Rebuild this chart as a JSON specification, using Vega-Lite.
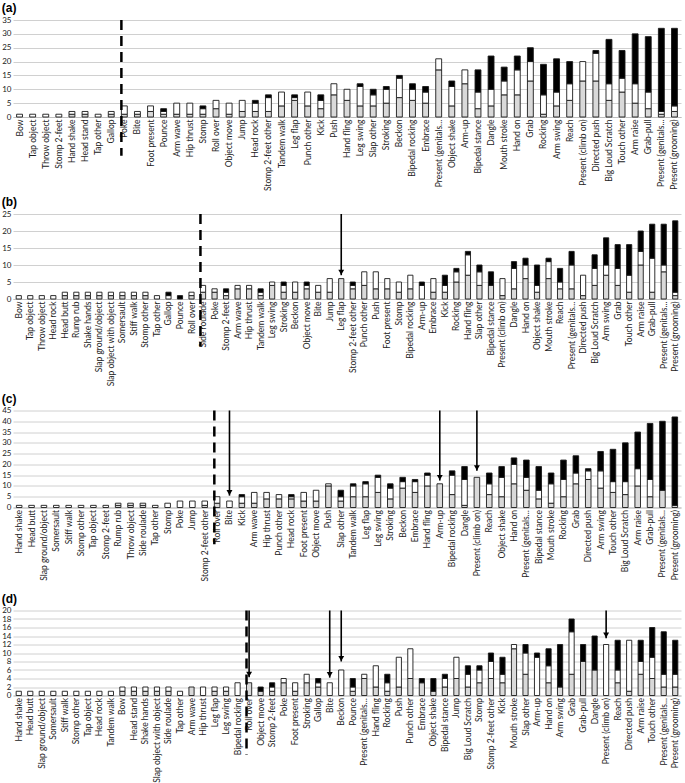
{
"$schema": "https://vega.github.io/schema/vega-lite/v6.json",
"background": "white",
"padding": {"left": 1, "right": 2, "top": 2, "bottom": 0},
"spacing": 6.5,
"config": {
  "view": {"stroke": null},
  "font": "Lato",
  "title": {"anchor": "start", "frame": "bounds", "fontSize": 12, "fontWeight": "bold", "font": "Liberation Sans", "offset": 1, "color": "#000"},
  "axisX": {"title": null, "labelAngle": -90, "labelFontSize": 8.5, "labelFont": "Lato", "labelColor": "#222", "ticks": false, "domain": true, "domainColor": "#bfbfbf", "labelPadding": 2, "grid": false},
  "axisY": {"title": null, "domain": false, "ticks": false, "grid": true, "gridColor": "#d0d0d0", "gridWidth": 1, "labelFontSize": 8, "labelFont": "Lato", "labelColor": "#222", "labelPadding": 2, "labelOverlap": false}
},
"datasets": {
  "bars": [
    {"p":"a","b":"Bow","s1":0,"s2":1,"s3":0},
    {"p":"a","b":"Tap object","s1":0,"s2":1,"s3":0},
    {"p":"a","b":"Throw object","s1":0,"s2":1,"s3":0},
    {"p":"a","b":"Stomp 2-feet","s1":0,"s2":1,"s3":0},
    {"p":"a","b":"Hand shake","s1":1,"s2":1,"s3":0},
    {"p":"a","b":"Head stand","s1":1,"s2":1,"s3":0},
    {"p":"a","b":"Tap other","s1":0,"s2":1,"s3":0},
    {"p":"a","b":"Gallop","s1":1,"s2":1,"s3":0},
    {"p":"a","b":"Poke","s1":1,"s2":3,"s3":0},
    {"p":"a","b":"Bite","s1":1,"s2":1,"s3":0},
    {"p":"a","b":"Foot present","s1":2,"s2":2,"s3":0},
    {"p":"a","b":"Pounce","s1":1,"s2":1,"s3":1},
    {"p":"a","b":"Arm wave","s1":1,"s2":4,"s3":0},
    {"p":"a","b":"Hip thrust","s1":1,"s2":4,"s3":0},
    {"p":"a","b":"Stomp","s1":1,"s2":2,"s3":1},
    {"p":"a","b":"Roll over","s1":3,"s2":3,"s3":0},
    {"p":"a","b":"Object move","s1":1,"s2":4,"s3":0},
    {"p":"a","b":"Jump","s1":2,"s2":4,"s3":0},
    {"p":"a","b":"Head rock","s1":2,"s2":3,"s3":1},
    {"p":"a","b":"Stomp 2-feet other","s1":2,"s2":5,"s3":1},
    {"p":"a","b":"Tandem walk","s1":4,"s2":5,"s3":0},
    {"p":"a","b":"Leg flap","s1":6,"s2":1,"s3":1},
    {"p":"a","b":"Punch other","s1":4,"s2":5,"s3":0},
    {"p":"a","b":"Kick","s1":3,"s2":3,"s3":2},
    {"p":"a","b":"Push","s1":8,"s2":4,"s3":0},
    {"p":"a","b":"Hand fling","s1":6,"s2":4,"s3":0},
    {"p":"a","b":"Leg swing","s1":4,"s2":7,"s3":1},
    {"p":"a","b":"Slap other","s1":4,"s2":4,"s3":2},
    {"p":"a","b":"Stroking","s1":5,"s2":5,"s3":1},
    {"p":"a","b":"Beckon","s1":7,"s2":7,"s3":1},
    {"p":"a","b":"Bipedal rocking","s1":6,"s2":4,"s3":2},
    {"p":"a","b":"Embrace","s1":5,"s2":4,"s3":2},
    {"p":"a","b":"Present (genitals…","s1":17,"s2":4,"s3":0},
    {"p":"a","b":"Object shake","s1":4,"s2":7,"s3":2},
    {"p":"a","b":"Arm-up","s1":12,"s2":5,"s3":0},
    {"p":"a","b":"Bipedal stance","s1":3,"s2":6,"s3":8},
    {"p":"a","b":"Dangle","s1":4,"s2":6,"s3":12},
    {"p":"a","b":"Mouth stroke","s1":8,"s2":5,"s3":5},
    {"p":"a","b":"Hand on","s1":8,"s2":9,"s3":5},
    {"p":"a","b":"Grab","s1":13,"s2":7,"s3":5},
    {"p":"a","b":"Rocking","s1":1,"s2":7,"s3":11},
    {"p":"a","b":"Arm swing","s1":4,"s2":5,"s3":12},
    {"p":"a","b":"Reach","s1":6,"s2":6,"s3":8},
    {"p":"a","b":"Present (climb on)","s1":13,"s2":7,"s3":0},
    {"p":"a","b":"Directed push","s1":13,"s2":10,"s3":1},
    {"p":"a","b":"Big Loud Scratch","s1":6,"s2":6,"s3":16},
    {"p":"a","b":"Touch other","s1":9,"s2":5,"s3":10},
    {"p":"a","b":"Arm raise","s1":5,"s2":7,"s3":18},
    {"p":"a","b":"Grab-pull","s1":3,"s2":6,"s3":20},
    {"p":"a","b":"Present (genitals...","s1":1,"s2":1,"s3":30},
    {"p":"a","b":"Present (grooming)","s1":2,"s2":2,"s3":28},

    {"p":"b","b":"Bow","s1":0,"s2":1,"s3":0},
    {"p":"b","b":"Tap object","s1":0,"s2":1,"s3":0},
    {"p":"b","b":"Throw object","s1":0,"s2":1,"s3":0},
    {"p":"b","b":"Head rock","s1":0,"s2":1,"s3":0},
    {"p":"b","b":"Head butt","s1":1,"s2":1,"s3":0},
    {"p":"b","b":"Rump rub","s1":1,"s2":1,"s3":0},
    {"p":"b","b":"Shake hands","s1":1,"s2":1,"s3":0},
    {"p":"b","b":"Slap ground/object","s1":1,"s2":1,"s3":0},
    {"p":"b","b":"Slap object with object","s1":1,"s2":1,"s3":0},
    {"p":"b","b":"Somersault","s1":1,"s2":1,"s3":0},
    {"p":"b","b":"Stiff walk","s1":1,"s2":1,"s3":0},
    {"p":"b","b":"Stomp other","s1":1,"s2":1,"s3":0},
    {"p":"b","b":"Tap other","s1":0,"s2":1,"s3":0},
    {"p":"b","b":"Gallop","s1":0,"s2":1,"s3":1},
    {"p":"b","b":"Pounce","s1":0,"s2":0,"s3":1},
    {"p":"b","b":"Roll over","s1":1,"s2":1,"s3":0},
    {"p":"b","b":"Side roulade","s1":2,"s2":2,"s3":0},
    {"p":"b","b":"Poke","s1":2,"s2":1,"s3":0},
    {"p":"b","b":"Stomp 2-feet","s1":1,"s2":1,"s3":1},
    {"p":"b","b":"Arm wave","s1":3,"s2":1,"s3":0},
    {"p":"b","b":"Hip thrust","s1":3,"s2":1,"s3":0},
    {"p":"b","b":"Tandem walk","s1":1,"s2":1,"s3":1},
    {"p":"b","b":"Leg swing","s1":4,"s2":1,"s3":0},
    {"p":"b","b":"Stroking","s1":2,"s2":2,"s3":1},
    {"p":"b","b":"Beckon","s1":2,"s2":3,"s3":0},
    {"p":"b","b":"Object move","s1":3,"s2":1,"s3":1},
    {"p":"b","b":"Bite","s1":2,"s2":2,"s3":0},
    {"p":"b","b":"Jump","s1":2,"s2":4,"s3":0},
    {"p":"b","b":"Leg flap","s1":6,"s2":0,"s3":0},
    {"p":"b","b":"Stomp 2-feet other","s1":3,"s2":1,"s3":1},
    {"p":"b","b":"Punch other","s1":4,"s2":4,"s3":0},
    {"p":"b","b":"Push","s1":3,"s2":5,"s3":0},
    {"p":"b","b":"Foot present","s1":3,"s2":3,"s3":0},
    {"p":"b","b":"Stomp","s1":2,"s2":3,"s3":0},
    {"p":"b","b":"Bipedal rocking","s1":3,"s2":4,"s3":0},
    {"p":"b","b":"Arm-up","s1":0,"s2":4,"s3":1},
    {"p":"b","b":"Embrace","s1":2,"s2":4,"s3":0},
    {"p":"b","b":"Kick","s1":2,"s2":2,"s3":3},
    {"p":"b","b":"Rocking","s1":5,"s2":3,"s3":1},
    {"p":"b","b":"Hand fling","s1":7,"s2":6,"s3":1},
    {"p":"b","b":"Slap other","s1":4,"s2":4,"s3":2},
    {"p":"b","b":"Bipedal stance","s1":4,"s2":0,"s3":4},
    {"p":"b","b":"Present (climb on)","s1":1,"s2":5,"s3":0},
    {"p":"b","b":"Dangle","s1":3,"s2":6,"s3":2},
    {"p":"b","b":"Hand on","s1":6,"s2":4,"s3":2},
    {"p":"b","b":"Object shake","s1":2,"s2":2,"s3":6},
    {"p":"b","b":"Mouth stroke","s1":6,"s2":5,"s3":1},
    {"p":"b","b":"Reach","s1":3,"s2":2,"s3":4},
    {"p":"b","b":"Present (genitals…","s1":3,"s2":7,"s3":4},
    {"p":"b","b":"Directed push","s1":1,"s2":6,"s3":0},
    {"p":"b","b":"Big Loud Scratch","s1":4,"s2":5,"s3":4},
    {"p":"b","b":"Arm swing","s1":7,"s2":3,"s3":8},
    {"p":"b","b":"Grab","s1":4,"s2":5,"s3":7},
    {"p":"b","b":"Touch other","s1":2,"s2":5,"s3":9},
    {"p":"b","b":"Arm raise","s1":10,"s2":4,"s3":6},
    {"p":"b","b":"Grab-pull","s1":2,"s2":10,"s3":10},
    {"p":"b","b":"Present (genitals...","s1":8,"s2":2,"s3":12},
    {"p":"b","b":"Present (grooming)","s1":1,"s2":1,"s3":21},

    {"p":"c","b":"Hand shake","s1":0,"s2":1,"s3":0},
    {"p":"c","b":"Head butt","s1":0,"s2":1,"s3":0},
    {"p":"c","b":"Slap ground/object","s1":0,"s2":1,"s3":0},
    {"p":"c","b":"Somersault","s1":0,"s2":1,"s3":0},
    {"p":"c","b":"Stiff walk","s1":0,"s2":1,"s3":0},
    {"p":"c","b":"Stomp other","s1":0,"s2":1,"s3":0},
    {"p":"c","b":"Tap object","s1":0,"s2":1,"s3":0},
    {"p":"c","b":"Stomp 2-feet","s1":0,"s2":1,"s3":0},
    {"p":"c","b":"Rump rub","s1":1,"s2":1,"s3":0},
    {"p":"c","b":"Throw object","s1":1,"s2":1,"s3":0},
    {"p":"c","b":"Side roulade","s1":1,"s2":1,"s3":0},
    {"p":"c","b":"Tap other","s1":0,"s2":1,"s3":0},
    {"p":"c","b":"Stomp","s1":0,"s2":2,"s3":0},
    {"p":"c","b":"Poke","s1":0,"s2":3,"s3":0},
    {"p":"c","b":"Jump","s1":0,"s2":3,"s3":0},
    {"p":"c","b":"Stomp 2-feet other","s1":1,"s2":2,"s3":0},
    {"p":"c","b":"Roll over","s1":2,"s2":3,"s3":0},
    {"p":"c","b":"Bite","s1":0,"s2":3,"s3":0},
    {"p":"c","b":"Kick","s1":2,"s2":3,"s3":1},
    {"p":"c","b":"Arm wave","s1":2,"s2":5,"s3":0},
    {"p":"c","b":"Hip thrust","s1":4,"s2":3,"s3":0},
    {"p":"c","b":"Punch other","s1":4,"s2":2,"s3":0},
    {"p":"c","b":"Head rock","s1":4,"s2":1,"s3":1},
    {"p":"c","b":"Foot present","s1":3,"s2":4,"s3":0},
    {"p":"c","b":"Object move","s1":3,"s2":5,"s3":0},
    {"p":"c","b":"Push","s1":10,"s2":1,"s3":0},
    {"p":"c","b":"Slap other","s1":3,"s2":2,"s3":3},
    {"p":"c","b":"Tandem walk","s1":5,"s2":5,"s3":1},
    {"p":"c","b":"Leg flap","s1":5,"s2":6,"s3":1},
    {"p":"c","b":"Leg swing","s1":7,"s2":7,"s3":1},
    {"p":"c","b":"Stroking","s1":4,"s2":5,"s3":2},
    {"p":"c","b":"Beckon","s1":9,"s2":3,"s3":2},
    {"p":"c","b":"Embrace","s1":7,"s2":5,"s3":1},
    {"p":"c","b":"Hand fling","s1":10,"s2":5,"s3":1},
    {"p":"c","b":"Arm-up","s1":11,"s2":0,"s3":0},
    {"p":"c","b":"Bipedal rocking","s1":6,"s2":9,"s3":2},
    {"p":"c","b":"Dangle","s1":1,"s2":12,"s3":6},
    {"p":"c","b":"Present (climb on)","s1":14,"s2":0,"s3":0},
    {"p":"c","b":"Reach","s1":6,"s2":5,"s3":5},
    {"p":"c","b":"Object shake","s1":5,"s2":9,"s3":5},
    {"p":"c","b":"Hand on","s1":11,"s2":9,"s3":3},
    {"p":"c","b":"Present (genitals…","s1":8,"s2":6,"s3":8},
    {"p":"c","b":"Bipedal stance","s1":4,"s2":4,"s3":11},
    {"p":"c","b":"Mouth stroke","s1":2,"s2":9,"s3":5},
    {"p":"c","b":"Rocking","s1":5,"s2":8,"s3":9},
    {"p":"c","b":"Grab","s1":11,"s2":5,"s3":8},
    {"p":"c","b":"Directed push","s1":13,"s2":4,"s3":1},
    {"p":"c","b":"Arm swing","s1":9,"s2":8,"s3":9},
    {"p":"c","b":"Touch other","s1":7,"s2":5,"s3":15},
    {"p":"c","b":"Big Loud Scratch","s1":6,"s2":6,"s3":18},
    {"p":"c","b":"Arm raise","s1":10,"s2":8,"s3":17},
    {"p":"c","b":"Grab-pull","s1":5,"s2":8,"s3":26},
    {"p":"c","b":"Present (genitals...","s1":8,"s2":0,"s3":32},
    {"p":"c","b":"Present (grooming)","s1":1,"s2":0,"s3":41},

    {"p":"d","b":"Hand shake","s1":0,"s2":1,"s3":0},
    {"p":"d","b":"Head butt","s1":0,"s2":1,"s3":0},
    {"p":"d","b":"Slap ground/object","s1":0,"s2":1,"s3":0},
    {"p":"d","b":"Somersault","s1":0,"s2":1,"s3":0},
    {"p":"d","b":"Stiff walk","s1":0,"s2":1,"s3":0},
    {"p":"d","b":"Stomp other","s1":0,"s2":1,"s3":0},
    {"p":"d","b":"Tap object","s1":0,"s2":1,"s3":0},
    {"p":"d","b":"Head rock","s1":0,"s2":1,"s3":0},
    {"p":"d","b":"Tandem walk","s1":0,"s2":1,"s3":0},
    {"p":"d","b":"Bow","s1":1,"s2":1,"s3":0},
    {"p":"d","b":"Head stand","s1":1,"s2":1,"s3":0},
    {"p":"d","b":"Shake hands","s1":1,"s2":1,"s3":0},
    {"p":"d","b":"Slap object with object","s1":1,"s2":1,"s3":0},
    {"p":"d","b":"Side roulade","s1":1,"s2":1,"s3":0},
    {"p":"d","b":"Tap other","s1":0,"s2":1,"s3":0},
    {"p":"d","b":"Arm wave","s1":2,"s2":0,"s3":0},
    {"p":"d","b":"Hip thrust","s1":0,"s2":2,"s3":0},
    {"p":"d","b":"Leg flap","s1":1,"s2":1,"s3":0},
    {"p":"d","b":"Leg swing","s1":1,"s2":1,"s3":0},
    {"p":"d","b":"Bipedal rocking","s1":0,"s2":3,"s3":0},
    {"p":"d","b":"Roll over","s1":3,"s2":0,"s3":0},
    {"p":"d","b":"Object move","s1":1,"s2":0,"s3":1},
    {"p":"d","b":"Stomp 2-feet","s1":1,"s2":1,"s3":1},
    {"p":"d","b":"Poke","s1":3,"s2":1,"s3":0},
    {"p":"d","b":"Foot present","s1":1,"s2":2,"s3":0},
    {"p":"d","b":"Stroking","s1":3,"s2":2,"s3":0},
    {"p":"d","b":"Gallop","s1":2,"s2":1,"s3":1},
    {"p":"d","b":"Bite","s1":0,"s2":3,"s3":0},
    {"p":"d","b":"Beckon","s1":0,"s2":6,"s3":0},
    {"p":"d","b":"Pounce","s1":1,"s2":1,"s3":2},
    {"p":"d","b":"Present (genitals…","s1":4,"s2":1,"s3":0},
    {"p":"d","b":"Hand fling","s1":2,"s2":5,"s3":0},
    {"p":"d","b":"Rocking","s1":1,"s2":2,"s3":2},
    {"p":"d","b":"Push","s1":2,"s2":7,"s3":0},
    {"p":"d","b":"Punch other","s1":4,"s2":7,"s3":0},
    {"p":"d","b":"Embrace","s1":3,"s2":0,"s3":1},
    {"p":"d","b":"Object shake","s1":1,"s2":0,"s3":3},
    {"p":"d","b":"Bipedal stance","s1":2,"s2":2,"s3":1},
    {"p":"d","b":"Jump","s1":4,"s2":5,"s3":0},
    {"p":"d","b":"Big Loud Scratch","s1":2,"s2":3,"s3":2},
    {"p":"d","b":"Stomp","s1":3,"s2":3,"s3":1},
    {"p":"d","b":"Stomp 2-feet other","s1":4,"s2":4,"s3":2},
    {"p":"d","b":"Kick","s1":3,"s2":2,"s3":4},
    {"p":"d","b":"Mouth stroke","s1":11,"s2":1,"s3":0},
    {"p":"d","b":"Slap other","s1":5,"s2":5,"s3":2},
    {"p":"d","b":"Arm-up","s1":0,"s2":9,"s3":1},
    {"p":"d","b":"Hand on","s1":3,"s2":4,"s3":4},
    {"p":"d","b":"Arm swing","s1":2,"s2":0,"s3":10},
    {"p":"d","b":"Grab","s1":5,"s2":10,"s3":3},
    {"p":"d","b":"Grab-pull","s1":8,"s2":0,"s3":4},
    {"p":"d","b":"Dangle","s1":6,"s2":0,"s3":8},
    {"p":"d","b":"Present (climb on)","s1":0,"s2":12,"s3":0},
    {"p":"d","b":"Reach","s1":3,"s2":3,"s3":7},
    {"p":"d","b":"Directed push","s1":1,"s2":12,"s3":0},
    {"p":"d","b":"Arm raise","s1":5,"s2":3,"s3":5},
    {"p":"d","b":"Touch other","s1":4,"s2":5,"s3":7},
    {"p":"d","b":"Present (genitals...","s1":2,"s2":3,"s3":10},
    {"p":"d","b":"Present (grooming)","s1":2,"s2":3,"s3":8}
  ],
  "breaks": [
    {"p":"a","b":"Poke","top":35,"bot":-14},
    {"p":"b","b":"Side roulade","top":25,"bot":-14},
    {"p":"c","b":"Roll over","top":45,"bot":-17},
    {"p":"d","b":"Roll over","top":20,"bot":-14}
  ],
  "arrows": [
    {"p":"b","b":"Leg flap","top":25,"tip":7},
    {"p":"c","b":"Bite","top":45,"tip":5.5},
    {"p":"c","b":"Arm-up","top":45,"tip":12.5},
    {"p":"c","b":"Present (climb on)","top":45,"tip":17},
    {"p":"d","b":"Roll over","top":20,"tip":4.3},
    {"p":"d","b":"Bite","top":20,"tip":4.2},
    {"p":"d","b":"Beckon","top":20,"tip":8},
    {"p":"d","b":"Present (climb on)","top":20,"tip":13.5}
  ]
},
"vconcat": [
  {
    "spacing": 5,
    "vconcat": [
      {
        "title": {"text": "(a)"},
        "width": 668, "height": 97,
        "layer": [
          {"data": {"name": "bars"},
           "transform": [{"filter": "datum.p === 'a'"}, {"fold": ["s1", "s2", "s3"], "as": ["seg", "v"]}, {"filter": "datum.v > 0"}],
           "mark": {"type": "bar", "stroke": "#1a1a1a", "strokeWidth": 0.9},
           "encoding": {
             "x": {"field": "b", "type": "nominal", "sort": null, "scale": {"paddingInner": 0.55, "paddingOuter": 0.275}},
             "y": {"field": "v", "type": "quantitative", "stack": "zero", "scale": {"domain": [0, 35], "nice": false}, "axis": {"values": [0,5,10,15,20,25,30,35], "labelOverlap": false, "grid": true}},
             "color": {"field": "seg", "type": "nominal", "scale": {"domain": ["s1","s2","s3"], "range": ["#d9d9d9","#ffffff","#000000"]}, "legend": null},
             "order": {"field": "seg", "sort": "ascending"}
           }},
          {"data": {"name": "breaks"},
           "transform": [{"filter": "datum.p === 'a'"}],
           "mark": {"type": "rule", "strokeDash": [10, 6], "strokeWidth": 2.5, "color": "#000"},
           "encoding": {
             "x": {"field": "b", "type": "nominal", "sort": null, "bandPosition": 0},
             "y": {"field": "top", "type": "quantitative", "axis": {"values": [0,5,10,15,20,25,30,35], "labelOverlap": false, "grid": true}},
             "y2": {"field": "bot"}
           }}
        ]
      },
      {
        "title": {"text": "(b)"},
        "width": 668, "height": 85,
        "layer": [
          {"data": {"name": "bars"},
           "transform": [{"filter": "datum.p === 'b'"}, {"fold": ["s1", "s2", "s3"], "as": ["seg", "v"]}, {"filter": "datum.v > 0"}],
           "mark": {"type": "bar", "stroke": "#1a1a1a", "strokeWidth": 0.9},
           "encoding": {
             "x": {"field": "b", "type": "nominal", "sort": null, "scale": {"paddingInner": 0.55, "paddingOuter": 0.275}},
             "y": {"field": "v", "type": "quantitative", "stack": "zero", "scale": {"domain": [0, 25], "nice": false}, "axis": {"values": [0,5,10,15,20,25], "labelOverlap": false, "grid": true}},
             "color": {"field": "seg", "type": "nominal", "scale": {"domain": ["s1","s2","s3"], "range": ["#d9d9d9","#ffffff","#000000"]}, "legend": null},
             "order": {"field": "seg", "sort": "ascending"}
           }},
          {"data": {"name": "breaks"},
           "transform": [{"filter": "datum.p === 'b'"}],
           "mark": {"type": "rule", "strokeDash": [10, 6], "strokeWidth": 2.5, "color": "#000"},
           "encoding": {
             "x": {"field": "b", "type": "nominal", "sort": null, "bandPosition": 0},
             "y": {"field": "top", "type": "quantitative", "axis": {"values": [0,5,10,15,20,25], "labelOverlap": false, "grid": true}},
             "y2": {"field": "bot"}
           }},
          {"data": {"name": "arrows"},
           "transform": [{"filter": "datum.p === 'b'"}],
           "mark": {"type": "rule", "strokeWidth": 1.6, "color": "#000"},
           "encoding": {
             "x": {"field": "b", "type": "nominal", "sort": null},
             "y": {"field": "top", "type": "quantitative", "axis": {"values": [0,5,10,15,20,25], "labelOverlap": false, "grid": true}},
             "y2": {"field": "tip"}
           }},
          {"data": {"name": "arrows"},
           "transform": [{"filter": "datum.p === 'b'"}],
           "mark": {"type": "point", "shape": "triangle-down", "filled": true, "size": 35, "color": "#000", "opacity": 1, "yOffset": -3},
           "encoding": {
             "x": {"field": "b", "type": "nominal", "sort": null},
             "y": {"field": "tip", "type": "quantitative", "axis": {"values": [0,5,10,15,20,25], "labelOverlap": false, "grid": true}}
           }}
        ]
      }
    ]
  },
  {
    "spacing": 11,
    "vconcat": [
      {
        "title": {"text": "(c)"},
        "width": 668, "height": 97,
        "layer": [
          {"data": {"name": "bars"},
           "transform": [{"filter": "datum.p === 'c'"}, {"fold": ["s1", "s2", "s3"], "as": ["seg", "v"]}, {"filter": "datum.v > 0"}],
           "mark": {"type": "bar", "stroke": "#1a1a1a", "strokeWidth": 0.9},
           "encoding": {
             "x": {"field": "b", "type": "nominal", "sort": null, "scale": {"paddingInner": 0.55, "paddingOuter": 0.275}},
             "y": {"field": "v", "type": "quantitative", "stack": "zero", "scale": {"domain": [0, 45], "nice": false}, "axis": {"values": [0,5,10,15,20,25,30,35,40,45], "labelOverlap": false, "grid": true}},
             "color": {"field": "seg", "type": "nominal", "scale": {"domain": ["s1","s2","s3"], "range": ["#d9d9d9","#ffffff","#000000"]}, "legend": null},
             "order": {"field": "seg", "sort": "ascending"}
           }},
          {"data": {"name": "breaks"},
           "transform": [{"filter": "datum.p === 'c'"}],
           "mark": {"type": "rule", "strokeDash": [10, 6], "strokeWidth": 2.5, "color": "#000"},
           "encoding": {
             "x": {"field": "b", "type": "nominal", "sort": null, "bandPosition": 0},
             "y": {"field": "top", "type": "quantitative", "axis": {"values": [0,5,10,15,20,25,30,35,40,45], "labelOverlap": false, "grid": true}},
             "y2": {"field": "bot"}
           }},
          {"data": {"name": "arrows"},
           "transform": [{"filter": "datum.p === 'c'"}],
           "mark": {"type": "rule", "strokeWidth": 1.6, "color": "#000"},
           "encoding": {
             "x": {"field": "b", "type": "nominal", "sort": null},
             "y": {"field": "top", "type": "quantitative", "axis": {"values": [0,5,10,15,20,25,30,35,40,45], "labelOverlap": false, "grid": true}},
             "y2": {"field": "tip"}
           }},
          {"data": {"name": "arrows"},
           "transform": [{"filter": "datum.p === 'c'"}],
           "mark": {"type": "point", "shape": "triangle-down", "filled": true, "size": 35, "color": "#000", "opacity": 1, "yOffset": -3},
           "encoding": {
             "x": {"field": "b", "type": "nominal", "sort": null},
             "y": {"field": "tip", "type": "quantitative", "axis": {"values": [0,5,10,15,20,25,30,35,40,45], "labelOverlap": false, "grid": true}}
           }}
        ]
      },
      {
        "title": {"text": "(d)"},
        "width": 668, "height": 85,
        "layer": [
          {"data": {"name": "bars"},
           "transform": [{"filter": "datum.p === 'd'"}, {"fold": ["s1", "s2", "s3"], "as": ["seg", "v"]}, {"filter": "datum.v > 0"}],
           "mark": {"type": "bar", "stroke": "#1a1a1a", "strokeWidth": 0.9},
           "encoding": {
             "x": {"field": "b", "type": "nominal", "sort": null, "scale": {"paddingInner": 0.55, "paddingOuter": 0.275}},
             "y": {"field": "v", "type": "quantitative", "stack": "zero", "scale": {"domain": [0, 20], "nice": false}, "axis": {"values": [0,2,4,6,8,10,12,14,16,18,20], "labelOverlap": false, "grid": true}},
             "color": {"field": "seg", "type": "nominal", "scale": {"domain": ["s1","s2","s3"], "range": ["#d9d9d9","#ffffff","#000000"]}, "legend": null},
             "order": {"field": "seg", "sort": "ascending"}
           }},
          {"data": {"name": "breaks"},
           "transform": [{"filter": "datum.p === 'd'"}],
           "mark": {"type": "rule", "strokeDash": [10, 6], "strokeWidth": 2.5, "color": "#000"},
           "encoding": {
             "x": {"field": "b", "type": "nominal", "sort": null, "bandPosition": 0},
             "y": {"field": "top", "type": "quantitative", "axis": {"values": [0,2,4,6,8,10,12,14,16,18,20], "labelOverlap": false, "grid": true}},
             "y2": {"field": "bot"}
           }},
          {"data": {"name": "arrows"},
           "transform": [{"filter": "datum.p === 'd'"}],
           "mark": {"type": "rule", "strokeWidth": 1.6, "color": "#000"},
           "encoding": {
             "x": {"field": "b", "type": "nominal", "sort": null},
             "y": {"field": "top", "type": "quantitative", "axis": {"values": [0,2,4,6,8,10,12,14,16,18,20], "labelOverlap": false, "grid": true}},
             "y2": {"field": "tip"}
           }},
          {"data": {"name": "arrows"},
           "transform": [{"filter": "datum.p === 'd'"}],
           "mark": {"type": "point", "shape": "triangle-down", "filled": true, "size": 35, "color": "#000", "opacity": 1, "yOffset": -3},
           "encoding": {
             "x": {"field": "b", "type": "nominal", "sort": null},
             "y": {"field": "tip", "type": "quantitative", "axis": {"values": [0,2,4,6,8,10,12,14,16,18,20], "labelOverlap": false, "grid": true}}
           }}
        ]
      }
    ]
  }
]
}
